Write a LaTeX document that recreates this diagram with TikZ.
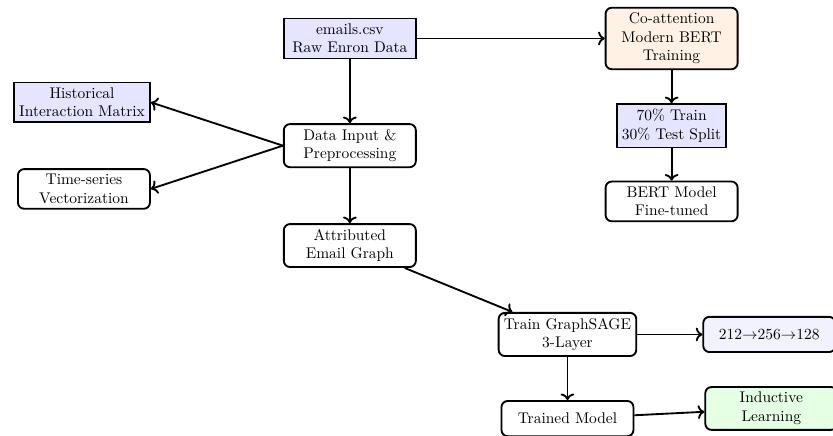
\documentclass[tikz,border=0pt]{standalone}
\usepackage{xcolor}
\usepackage{tikz}
\usepackage{amsmath}
\usetikzlibrary{positioning}
\usetikzlibrary{shapes,arrows,calc,arrows.meta}

\begin{document}
\begin{tikzpicture}[node distance=1cm, auto,
    box/.style={draw, rectangle, very thick, align=center, minimum width=3cm, minimum height=0.8cm},
    rbox/.style={box, rounded corners},
    arrow/.style={->, very thick}]
    \useasboundingbox (-7.95,-6.58) rectangle (10.98,3.31);
    % Nodes
    \node [rbox] (data) {Data Input \&\\Preprocessing};
    \node [box, fill=blue!10, above=1.45cm of data] (emails) {emails.csv\\Raw Enron Data};
    \node [rbox, fill=orange!10, right=4.27cm of emails] (coatt) {Co-attention\\Modern BERT\\Training};
    \node [box, fill=blue!10, minimum width=0pt, below=0.75cm of coatt] (split) {70\% Train\\30\% Test Split};
    \node [rbox, below=0.73cm of split] (bert) {BERT Model\\Fine-tuned};

    \node [box, fill=blue!10, above left=0cm and 3cm of data] (hist) {Historical\\Interaction Matrix};
    \node [rbox, below left=0cm and 3cm of data] (vec) {Time-series\\Vectorization};

    \node [rbox, below=1.25cm of data] (graph) {Attributed\\Email Graph};
    \node [rbox, below right=1cm and 1.84cm of graph] (sage) {Train GraphSAGE\\3-Layer};
    \node [rbox, fill=blue!5, right=1.48cm of sage] (dims) {212$\rightarrow$256$\rightarrow$128};
    \node [rbox, below=0.98cm of sage] (trained) {Trained Model};
    \node [rbox, fill=green!10, right=1.59cm of trained, yshift=0.23cm] (induct) {Inductive\\Learning};
    % Arrows
    \draw [arrow] (emails) -- (coatt);
    \draw [arrow] (emails) -- (data);
    \draw [arrow] (coatt) -- (split);
    \draw [arrow] (split) -- (bert);
    \draw [arrow] (data.west) -- (hist.east);
    \draw [arrow] (data.west) -- (vec.east);
    \draw [arrow] (data) -- (graph);
    \draw [arrow] (graph) -- (sage);
    \draw [arrow] (sage) -- (dims);
    \draw [arrow] (sage) -- (trained);
    \draw [arrow] (trained) -- (induct);
  \end{tikzpicture}
\end{document}
